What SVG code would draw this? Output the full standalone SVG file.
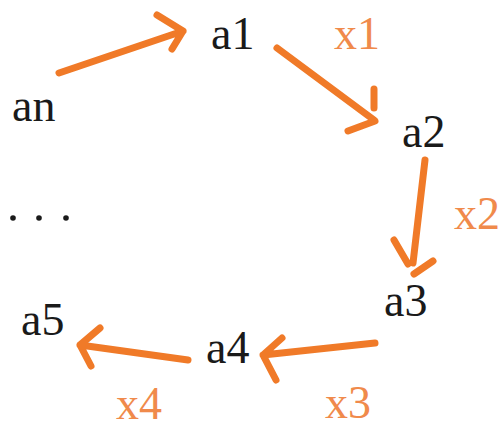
<svg xmlns="http://www.w3.org/2000/svg" width="504" height="431" viewBox="0 0 504 431">
<style>
.n{font-family:"Liberation Serif","Times New Roman",serif;font-size:46px;fill:#1a1a1a}
.x{font-family:"Liberation Serif","Times New Roman",serif;font-size:46px;fill:#F08A4B}
.c{fill:none;stroke:#F07A28;stroke-width:7;stroke-linecap:round;stroke-linejoin:round}
</style>
<rect width="504" height="431" fill="#ffffff"/>
<g id="node-an"><text class="n" x="12" y="121">an</text></g>
<g id="node-a1"><text class="n" x="211" y="49">a1</text></g>
<g id="node-a2"><text class="n" x="402" y="147">a2</text></g>
<g id="node-a3"><text class="n" x="384" y="316">a3</text></g>
<g id="node-a4"><text class="n" x="206" y="363">a4</text></g>
<g id="node-a5"><text class="n" x="21" y="335">a5</text></g>
<g id="node-dots">
<circle cx="13" cy="218" r="2.8" fill="#1a1a1a"/>
<circle cx="39" cy="218" r="2.8" fill="#1a1a1a"/>
<circle cx="66" cy="218" r="2.8" fill="#1a1a1a"/>
</g>
<g id="connectors">
<path class="c" d="M59 73 L183 31 M157 15 L183 31 L172 49"/>
<path class="c" d="M277 48 L374 120 M374 89 L374 108 M348 131 L375 121"/>
<path class="c" d="M425 160 L413 263 M394 240 L408 264 M414 274 L433 261"/>
<path class="c" d="M375 343 L263 355 M282 338 L263 355 L276 380"/>
<path class="c" d="M188 360 L80 345 M100 328 L80 345 L91 366"/>
</g>
<g id="labels">
<text class="x" x="334" y="49">x1</text>
<text class="x" x="454" y="229">x2</text>
<text class="x" x="325" y="418">x3</text>
<text class="x" x="116" y="419">x4</text>
</g>
</svg>
